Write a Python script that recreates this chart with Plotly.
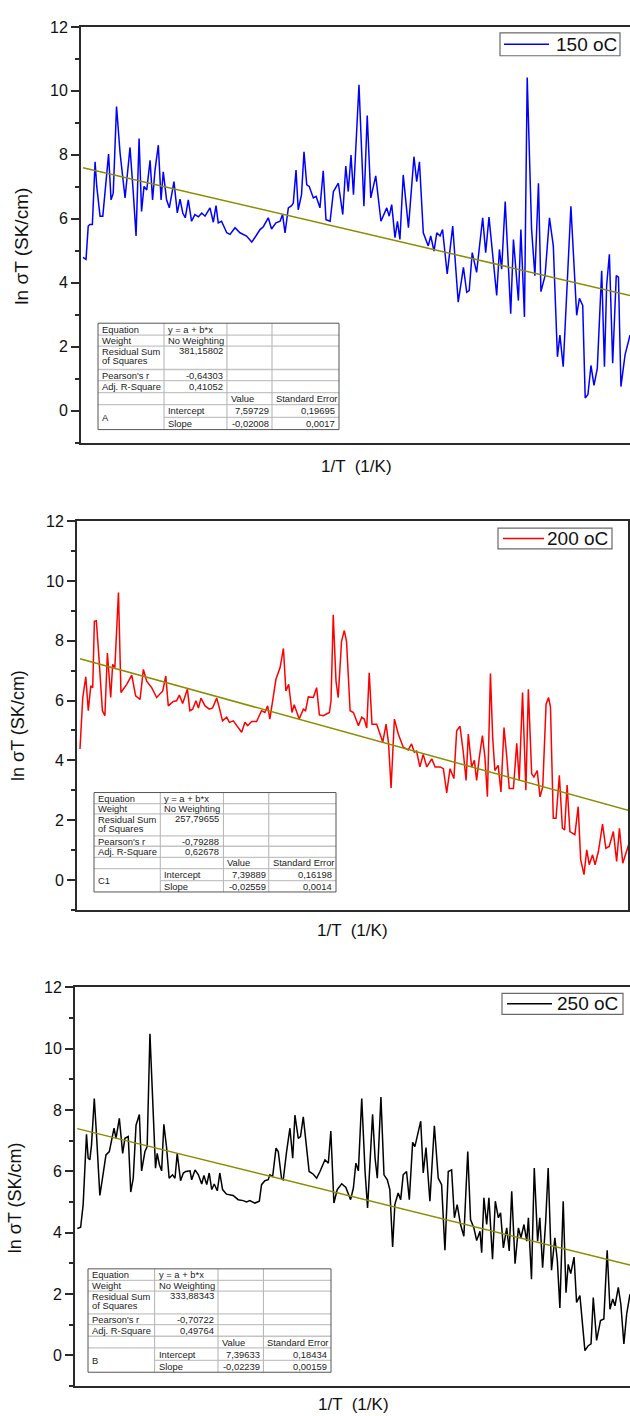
import plotly.graph_objects as go

# ---------------- data ----------------
x150 = [0, 1.1, 1.9, 2.5, 3.4, 4.4, 5.0, 6.2, 7.2, 8.4,
        9.3, 10.2, 11.0, 12.2, 13.5, 15.3, 17.1, 18.3, 19.3, 20.4,
        21.3, 22.2, 23.2, 24.4, 25.3, 26.2, 27.4, 28.4, 29.2, 30.4,
        31.4, 33.1, 34.3, 35.3, 36.3, 37.2, 38.3, 39.5, 40.7, 42.0,
        43.2, 44.4, 46.2, 47.4, 48.4, 49.2, 50.4, 52.3, 53.5, 55.3,
        57.1, 59.5, 61.4, 62.9, 64.4, 65.6, 67.4, 68.6, 70.2, 71.7,
        72.6, 73.5, 74.7, 75.9, 76.5, 77.5, 78.3, 79.5, 80.4, 81.4,
        82.3, 83.8, 84.8,
        86.2, 87.4, 88.4, 89.9, 91.1, 92.9, 94.5, 95.6, 96.5, 97.5,
        98.4, 99.2, 100.4, 101.4, 102.2, 103.4, 104.7, 106.5, 108.4, 110.5,
        111.4, 112.3, 113.5, 114.4, 115.3, 116.5, 118.4, 120.4, 121.4, 122.4,
        123.8, 125.6, 126.5, 127.7, 128.7, 129.9, 130.8, 132.5, 134.5, 136.5,
        138.4, 139.6, 140.5, 141.6, 143.2, 145.4, 146.5, 147.7, 149.0, 150.5,
        151.5, 152.3, 153.6, 155.6, 156.6, 158.4, 159.3, 160.6, 161.6, 163.2,
        164.4, 165.7, 166.6, 168.1, 169.7, 171.1, 172.6, 173.5, 174.7, 176.0,
        177.5, 179.6, 180.6, 181.8, 182.7, 183.7, 184.8, 185.9, 187.1, 188.7,
        189.7, 190.5, 191.5, 192.7, 194.0, 194.8, 195.7, 197.2, 199.0]
y150 = [4.79, 4.73, 5.77, 5.82, 5.82, 7.78, 7.01, 6.08, 6.08, 7.21,
        8.02, 6.59, 6.80, 9.51, 8.04, 6.65, 8.23, 6.80, 5.46, 8.51,
        6.23, 7.01, 6.90, 7.83, 6.59, 7.52, 8.30, 6.59, 7.47, 6.59,
        6.34, 7.16, 6.18, 6.61, 6.18, 6.03, 6.59, 5.92, 6.13, 6.06,
        6.18, 6.08, 6.34, 5.89, 6.41, 5.87, 5.92, 5.56, 5.51, 5.72,
        5.56, 5.46, 5.27, 5.46, 5.66, 5.75, 6.03, 5.68, 5.87, 5.92,
        6.13, 5.56, 6.34, 6.41, 6.49, 7.52, 6.28, 6.75, 8.09, 7.06,
        7.01, 6.65, 6.70,
        6.34, 7.50, 5.97, 5.92, 6.85, 7.11, 6.13, 7.65, 6.85, 7.99,
        6.75, 8.14, 10.19, 8.04, 6.39, 9.23, 6.65, 7.34, 5.92, 6.34,
        6.08, 6.44, 5.41, 5.92, 5.35, 7.37, 5.72, 7.94, 7.16, 7.78,
        5.56, 5.15, 5.46, 4.99, 5.56, 5.46, 5.66, 4.27, 5.77, 3.39,
        4.48, 3.70, 3.75, 4.94, 4.32, 6.03, 4.94, 6.05, 4.94, 3.60,
        5.04, 4.42, 6.54, 3.03, 5.35, 3.44, 5.66, 2.93, 10.42, 5.66,
        4.22, 7.11, 3.72, 4.22, 6.03, 5.15, 1.68, 2.36, 1.37, 3.60,
        6.39, 2.98, 3.51, 3.29, 0.39, 0.50, 1.41, 0.79, 1.32, 4.37,
        1.37, 3.91, 4.89, 1.48, 4.22, 4.17, 0.75, 1.74, 2.36]

x200 = [0, 0.4, 1.0, 2.1, 3.0, 3.9, 4.6, 5.2, 5.9, 6.7,
        8.1, 9.0, 9.9, 11.1, 11.8, 12.6, 13.9, 14.8, 16.9, 18.7,
        20.1, 21.7, 22.9, 24.1, 25.9, 27.7, 29.9, 31.0, 31.9, 33.7,
        34.9, 35.9, 37.1, 38.8, 39.7, 40.7, 41.9, 42.8, 43.7, 45.2,
        46.7, 47.9, 49.4, 50.3, 51.5, 53.0, 54.0, 55.4, 56.8, 58.4,
        59.6, 60.6, 62.0, 63.8, 65.6, 66.8, 67.8, 68.6, 70.8, 72.3,
        73.5, 74.4, 75.4, 76.6, 77.4, 79.2, 80.7, 81.5, 82.5, 84.3,
        85.5,
        86.5, 87.9, 90.1, 90.7, 91.5, 92.5, 93.3, 94.5, 95.5, 96.3,
        97.6, 98.8, 100.6, 101.8, 102.7, 103.6, 104.5, 105.5, 107.2, 108.4,
        109.4, 110.6, 111.5, 112.4, 113.6, 115.0, 116.8, 118.6, 119.8, 120.8,
        121.6, 122.8, 124.0, 125.3, 127.1, 128.3, 130.1, 131.3, 132.5, 133.7,
        135.1, 136.1, 137.3, 138.5, 139.5, 140.3, 141.5, 142.5, 143.3, 144.3,
        145.4, 146.3, 147.2, 148.3, 149.1, 149.9, 151.1, 152.1, 153.2, 154.2,
        155.1, 156.6, 157.8, 158.7, 159.9, 161.1, 162.0, 163.2, 164.0, 165.2,
        166.2, 167.2, 168.4, 169.3, 170.0, 171.0, 172.0, 173.2, 174.3, 175.1,
        176.0, 177.0, 178.8, 180.0, 180.9, 182.1, 183.1, 184.0, 185.2, 186.1,
        187.3, 188.8, 190.0, 191.2, 192.7, 193.9, 194.9, 196.1, 197.8, 198.4]
y200 = [4.38, 4.99, 6.10, 6.79, 5.66, 6.49, 6.43, 8.65, 8.67, 7.65,
        5.66, 5.49, 7.59, 6.10, 7.21, 7.10, 9.61, 6.27, 6.54, 6.85,
        6.16, 6.04, 7.04, 6.65, 6.43, 6.10, 6.32, 6.82, 5.82, 5.97,
        5.99, 6.18, 5.90, 6.38, 5.66, 5.71, 5.99, 5.75, 6.08, 5.82,
        5.71, 5.75, 6.08, 5.77, 5.32, 5.44, 5.27, 5.32, 5.16, 4.94,
        5.27, 5.16, 5.30, 5.30, 5.66, 5.60, 5.82, 5.38, 6.71, 7.10,
        7.74, 6.32, 6.54, 5.60, 5.86, 5.38, 5.71, 5.66, 6.12, 6.10,
        6.43,
        5.52, 5.49, 5.60, 5.99, 8.87, 6.65, 6.10, 7.98, 8.34, 7.98,
        5.66, 5.60, 5.16, 5.44, 5.38, 5.08, 6.93, 5.21, 5.21, 4.88,
        4.61, 5.21, 4.55, 3.08, 5.38, 4.88, 4.44, 4.35, 4.55, 4.27,
        4.31, 3.78, 4.20, 3.78, 4.05, 3.78, 3.78, 3.72, 2.91, 3.72,
        3.39, 4.99, 5.14, 4.27, 3.33, 4.88, 3.78, 4.00, 3.33, 4.11,
        4.83, 4.11, 2.78, 6.90, 4.77, 3.66, 3.83, 2.94, 5.10, 4.11,
        3.06, 3.06, 4.57, 3.33, 6.27, 3.00, 6.38, 3.55, 3.44, 3.66,
        2.78, 3.11, 5.88, 6.10, 5.77, 2.06, 2.06, 3.50, 1.73, 1.67,
        3.17, 1.62, 1.51, 2.45, 0.68, 0.18, 1.01, 0.51, 0.84, 0.51,
        0.95, 1.87, 1.06, 1.12, 1.62, 0.62, 1.73, 0.56, 1.01, 1.23]

x250 = [0.0, 1.2, 2.1, 2.7, 3.3, 3.9, 4.5, 5.1, 6.1, 6.9,
        8.1, 8.7, 10.3, 11.5, 12.3, 13.2, 13.9, 15.1, 16.3, 17.1,
        18.3, 19.2, 20.1, 21.1, 22.3, 23.1, 24.3, 25.1, 26.1, 26.9,
        28.1, 28.7, 29.5, 30.3, 31.1, 32.1, 33.0, 34.2, 35.1, 35.9,
        37.1, 38.1, 39.0, 40.5, 41.1, 42.3, 43.5, 44.7, 45.5, 46.5,
        47.4, 48.3, 49.2, 50.3, 51.2, 52.2, 53.6, 56.0, 57.8, 59.6,
        60.8, 62.0, 63.8, 65.4, 66.2, 67.4, 68.6, 69.2, 70.2, 71.4,
        72.2, 73.4, 74.0, 75.2, 76.4, 77.4, 78.2, 79.4, 80.2, 81.2,
        82.4, 83.3, 84.8, 86.0,
        87.2, 89.0, 90.2, 91.1, 92.2, 93.4, 95.0, 96.5, 98.2, 99.2,
        100.1, 101.0, 102.2, 103.4, 104.3, 105.2, 106.1, 107.0, 107.8, 109.1,
        110.2, 111.4, 112.3, 113.3, 114.1, 115.3, 116.2, 117.1, 118.3, 119.3,
        120.5, 121.3, 123.4, 124.3, 125.3, 126.7, 128.3, 129.7, 130.9, 132.1,
        133.3, 134.5, 135.5, 136.5, 137.7, 138.9, 140.3, 141.3, 142.5, 143.5,
        144.7, 145.3, 146.1, 147.1, 147.9, 149.2, 150.2, 151.3, 152.1, 153.1,
        154.3, 155.2, 156.1, 157.3, 158.5, 159.4, 160.5, 161.5, 162.1, 163.2,
        164.2, 165.4, 166.2, 167.2, 168.3, 169.2, 170.4, 171.6, 172.5, 173.4,
        174.6, 175.6, 176.4, 177.3, 178.5, 179.4, 180.6, 182.4, 183.6, 184.6,
        185.4, 186.6, 188.0, 189.2, 190.4, 191.4, 192.4, 193.2, 194.4, 195.3,
        196.4, 197.4, 198.6]
y250 = [4.14, 4.18, 4.92, 6.00, 7.21, 6.43, 6.38, 6.86, 8.38, 7.19,
        5.22, 5.57, 6.54, 6.65, 7.03, 7.41, 7.08, 7.73, 6.59, 7.08,
        7.14, 5.33, 5.78, 7.51, 7.86, 6.02, 6.65, 6.81, 10.49, 8.59,
        6.11, 6.59, 6.22, 6.02, 7.54, 6.76, 5.78, 5.89, 5.78, 6.59,
        5.70, 5.95, 6.00, 6.02, 5.73, 6.05, 5.89, 5.59, 5.87, 5.57,
        5.95, 5.41, 5.59, 5.37, 5.95, 5.41, 5.26, 5.22, 5.08, 5.05,
        5.01, 5.05, 4.97, 5.03, 5.57, 5.70, 5.73, 5.89, 5.84, 6.76,
        6.65, 5.76, 5.73, 6.65, 7.41, 6.43, 7.84, 7.08, 7.14, 7.78,
        6.76, 6.00, 5.91, 5.78,
        6.00, 6.38, 6.27, 7.32, 4.97, 5.41, 5.60, 5.48, 5.08, 5.46,
        6.27, 6.02, 8.38, 6.00, 4.81, 6.22, 7.86, 6.43, 5.78, 8.43,
        5.89, 5.73, 5.41, 3.54, 4.92, 5.30, 5.08, 5.89, 6.00, 5.08,
        6.95, 6.81, 7.64, 5.95, 6.78, 5.03, 7.49, 5.78, 5.57, 3.43,
        6.00, 6.05, 4.49, 4.92, 4.27, 3.89, 6.65, 4.43, 4.16, 3.75,
        4.05, 3.35, 5.14, 4.27, 5.14, 3.14, 5.03, 4.49, 4.65, 3.51,
        4.16, 3.41, 5.35, 2.99, 4.16, 3.84, 4.27, 3.73, 4.49, 2.49,
        6.11, 3.73, 4.49, 2.86, 4.38, 6.11, 2.78, 3.84, 3.08, 1.55,
        5.03, 2.05, 2.97, 2.67, 3.21, 1.73, 1.95, 0.16, 0.32, 0.38,
        1.89, 0.49, 1.14, 1.19, 3.43, 1.51, 1.84, 1.62, 2.22, 1.68,
        0.38, 1.35, 2.00]

series_names = ["150 oC", "200 oC", "250 oC"]
fit_names = ["A", "C1", "B"]
intercepts = [7.59729, 7.39889, 7.39633]
slopes = [-0.02008, -0.02559, -0.02239]
se_intercept = ["0,19695", "0,16198", "0,18434"]
se_slope = ["0,0017", "0,0014", "0,00159"]
rss = ["381,15802", "257,79655", "333,88343"]
pearson_r = ["-0,64303", "-0,79288", "-0,70722"]
adj_r2 = ["0,41052", "0,62678", "0,49764"]
y_ticks = [0, 2, 4, 6, 8, 10, 12]

# ---------------- layout helpers ----------------
W, H = 630, 1416
FONT = "Liberation Sans, Arial, sans-serif"
AXC = "#2a2a2a"


def fx(p):
    return p / W


def fy(p):
    return 1 - p / H


panels = [
    dict(xs=x150, ys=y150, color="#0000FF", xpx=(81, 630), ypx=(19, 437), xr=(-0.73, 199.0),
         mirror_y=False, leg=(500, 25, 620, 48, 504, 549, 555), table=(98, 317, 339, 424),
         ytitle=(22, 240, 19), xtitle=(356, 461)),
    dict(xs=x200, ys=y200, color="#FF0000", xpx=(77, 628), ypx=(516, 907), xr=(-1.08, 198.0),
         mirror_y=True, leg=(498, 523, 612, 544, 503, 544, 546), table=(94, 789, 336, 889),
         ytitle=(18, 722, 18), xtitle=(352, 928)),
    dict(xs=x250, ys=y250, color="#000000", xpx=(75, 630), ypx=(985, 1386), xr=(-0.83, 198.6),
         mirror_y=False, leg=(502, 991, 623, 1012, 507, 552, 556), table=(88, 1268, 331, 1372),
         ytitle=(15, 1197, 18), xtitle=(353, 1404)),
]

fig = go.Figure()
shapes = []
annotations = []
layout = {}


def fmt(v):
    return f"{v:.5f}".replace(".", ",")


def txt(x, y, s, anchor="left", size=9.4):
    annotations.append(dict(x=fx(x), y=fy(y), xref="paper", yref="paper", text=s,
                            showarrow=False, xanchor=anchor, yanchor="middle",
                            font=dict(family=FONT, size=size, color="#222"),
                            borderpad=0))


def hline(x0, x1, y, color, w):
    shapes.append(dict(type="line", xref="paper", yref="paper", x0=fx(x0), x1=fx(x1),
                       y0=fy(y), y1=fy(y), line=dict(color=color, width=w)))


def vline(x, y0, y1, color, w):
    shapes.append(dict(type="line", xref="paper", yref="paper", x0=fx(x), x1=fx(x),
                       y0=fy(y0), y1=fy(y1), line=dict(color=color, width=w)))


row_f = [0, 0.112, 0.215, 0.435, 0.54, 0.652, 0.765, 0.885, 1.0]
col_f = [0, 0.274, 0.535, 0.722, 1.0]

for i, p in enumerate(panels):
    sfx = "" if i == 0 else str(i + 1)
    fig.add_trace(go.Scatter(x=p["xs"], y=p["ys"], mode="lines", name=series_names[i],
                             line=dict(color=p["color"], width=1.5), showlegend=False,
                             xaxis="x" + sfx, yaxis="y" + sfx))
    xf = [p["xs"][0], p["xs"][-1]]
    yf = [intercepts[i] + slopes[i] * v for v in xf]
    fig.add_trace(go.Scatter(x=xf, y=yf, mode="lines", showlegend=False,
                             line=dict(color="#8C8C00", width=1.5),
                             xaxis="x" + sfx, yaxis="y" + sfx))

    layout["xaxis" + sfx] = dict(domain=[fx(p["xpx"][0]), fx(p["xpx"][1])], range=list(p["xr"]),
                                 anchor="y" + sfx, showline=True, linecolor=AXC, linewidth=2,
                                 mirror=True, ticks="", showticklabels=False,
                                 showgrid=False, zeroline=False)
    layout["yaxis" + sfx] = dict(domain=[fy(p["ypx"][1]), fy(p["ypx"][0])], range=[-1, 12],
                                 anchor="x" + sfx, showline=True, linecolor=AXC, linewidth=2,
                                 mirror=p["mirror_y"], tickvals=y_ticks, ticks="outside",
                                 ticklen=8, tickwidth=1.5, tickcolor=AXC,
                                 minor=dict(dtick=1, tick0=0, ticks="outside", ticklen=4,
                                            tickwidth=1.5, tickcolor=AXC),
                                 tickfont=dict(family=FONT, size=16, color="#111"),
                                 showgrid=False, zeroline=False)

    # legend box
    lx0, ly0, lx1, ly1, sx0, sx1, tx_ = p["leg"]
    lym = (ly0 + ly1) / 2
    shapes.append(dict(type="rect", xref="paper", yref="paper", x0=fx(lx0), x1=fx(lx1),
                       y0=fy(ly1), y1=fy(ly0), fillcolor="white",
                       line=dict(color="#6a6a6a", width=1.2)))
    hline(sx0, sx1, lym, p["color"], 1.5)
    annotations.append(dict(x=fx(tx_), y=fy(lym), xref="paper", yref="paper",
                            text=series_names[i], showarrow=False, xanchor="left",
                            yanchor="middle", borderpad=0,
                            font=dict(family=FONT, size=19, color="#111")))

    # axis titles
    tx, ty, tsize = p["ytitle"]
    annotations.append(dict(x=fx(tx), y=fy(ty), xref="paper", yref="paper",
                            text="ln σT (SK/cm)", textangle=-90, showarrow=False,
                            xanchor="center", yanchor="middle",
                            font=dict(family=FONT, size=tsize, color="#111")))
    annotations.append(dict(x=fx(p["xtitle"][0]), y=fy(p["xtitle"][1]), xref="paper", yref="paper",
                            text="1/T  (1/K)", showarrow=False, xanchor="center", yanchor="middle",
                            borderpad=0,
                            font=dict(family=FONT, size=17, color="#111")))

    # fit-results table
    tx0, ty0, tx1, ty1 = p["table"]
    tw, th = tx1 - tx0, ty1 - ty0
    rows = [ty0 + f * th for f in row_f]
    cols = [tx0 + f * tw for f in col_f]
    shapes.append(dict(type="rect", xref="paper", yref="paper", x0=fx(tx0), x1=fx(tx1),
                       y0=fy(ty1), y1=fy(ty0), fillcolor="white", line=dict(width=0), layer="above"))
    for k in range(1, 8):
        start = cols[1] if k == 7 else tx0
        hline(start, tx1, rows[k], "#c4c4c4", 1.3)
    for c in cols[1:4]:
        vline(c, ty0, ty1, "#b8b8b8", 1.1)
    shapes.append(dict(type="rect", xref="paper", yref="paper", x0=fx(tx0), x1=fx(tx1),
                       y0=fy(ty1), y1=fy(ty0), line=dict(color="#555", width=1), layer="above"))

    def mid(k):
        return (rows[k] + rows[k + 1]) / 2

    lx = cols[0] + 3
    txt(lx, mid(0), "Equation")
    txt(cols[1] + 3, mid(0), "y = a + b*x")
    txt(lx, mid(1), "Weight")
    txt(cols[1] + 3, mid(1), "No Weighting")
    txt(lx, rows[2] + 5.5, "Residual Sum")
    txt(lx, rows[2] + 15, "of Squares")
    txt(cols[2] - 3, rows[2] + 4.5, rss[i], "right")
    txt(lx, mid(3), "Pearson's r")
    txt(cols[2] - 3, mid(3), pearson_r[i], "right")
    txt(lx, mid(4), "Adj. R-Square")
    txt(cols[2] - 3, mid(4), adj_r2[i], "right")
    txt(cols[2] + 3, mid(5), "Value")
    txt(cols[3] + 3, mid(5), "Standard Error")
    txt(lx, rows[7], fit_names[i])
    txt(cols[1] + 3, mid(6), "Intercept")
    txt(cols[3] - 2, mid(6), fmt(intercepts[i]), "right")
    txt(cols[4] - 3, mid(6), se_intercept[i], "right")
    txt(cols[1] + 3, mid(7), "Slope")
    txt(cols[3] - 2, mid(7), fmt(slopes[i]), "right")
    txt(cols[4] - 3, mid(7), se_slope[i], "right")

fig.update_layout(**layout)
fig.update_layout(width=W, height=H, margin=dict(l=0, r=0, t=0, b=0),
                  paper_bgcolor="white", plot_bgcolor="white",
                  shapes=shapes, annotations=annotations, showlegend=False)
fig.write_html("out.html", config={"displayModeBar": False},
               post_script="document.body.style.margin='0';document.body.style.overflow='hidden';")
